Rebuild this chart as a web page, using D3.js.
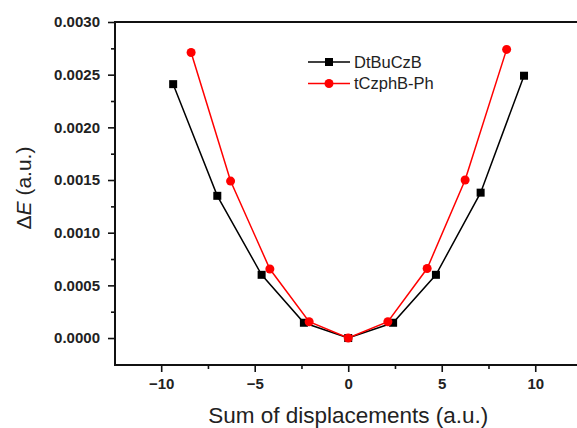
<!DOCTYPE html>
<html>
<head>
<meta charset="utf-8">
<script src="https://cdn.jsdelivr.net/npm/d3@7"></script>
<style>
  body { margin: 0; background: #fff; }
  text { font-family: "Liberation Sans", Arial, sans-serif; }
</style>
</head>
<body>
<div id="chart"></div>
<script>
// displacement vs energy difference
var dtbuX = [-9.36, -7.0, -4.63, -2.37, 0, 2.4, 4.69, 7.08, 9.4];
var dtbuY = [0.00241, 0.00135, 0.0006, 0.000145, 0, 0.000145, 0.0006, 0.00138, 0.00249];
var tczX = [-8.4, -6.29, -4.19, -2.09, 0, 2.12, 4.22, 6.25, 8.47];
var tczY = [0.00271, 0.00149, 0.000655, 0.000155, 0, 0.000155, 0.00066, 0.0015, 0.00274];
var seriesNames = ["DtBuCzB", "tCzphB-Ph"];
var xTicks = [-10, -5, 0, 5, 10];
var yTicks = [0, 0.0005, 0.001, 0.0015, 0.002, 0.0025, 0.003];

var W = 577, H = 428;
var margin = { top: 22, left: 115, bottom: 63, right: -5 };

var svg = d3.select("#chart").append("svg")
  .attr("width", W).attr("height", H);

var x = d3.scaleLinear()
  .domain([-12.47, 12.5])
  .range([margin.left, W - margin.right]);

var y = d3.scaleLinear()
  .domain([-0.000256, 0.003])
  .range([H - margin.bottom, margin.top]);

var series = [
  { name: seriesNames[0], xs: dtbuX, ys: dtbuY, color: "#000", shape: "square" },
  { name: seriesNames[1], xs: tczX, ys: tczY, color: "#ff0000", shape: "circle" }
];

// frame
svg.append("rect")
  .attr("x", x.range()[0]).attr("y", y.range()[1])
  .attr("width", x.range()[1] - x.range()[0])
  .attr("height", y.range()[0] - y.range()[1])
  .attr("fill", "none").attr("stroke", "#111").attr("stroke-width", 2);

// x axis
var xAxis = svg.append("g")
  .attr("transform", "translate(0," + y.range()[0] + ")")
  .call(d3.axisBottom(x).tickValues(xTicks).tickSize(7).tickPadding(6).tickFormat(d3.format("d")));
xAxis.append("g")
  .call(d3.axisBottom(x).tickValues([-7.5, -2.5, 2.5, 7.5]).tickSize(4).tickFormat(""));

// y axis
var yAxis = svg.append("g")
  .attr("transform", "translate(" + x.range()[0] + ",0)")
  .call(d3.axisLeft(y).tickValues(yTicks).tickSize(7).tickPadding(8).tickFormat(d3.format(".4f")));
yAxis.append("g")
  .call(d3.axisLeft(y).tickValues(d3.range(0, 0.003, 0.0005).map(function(v) { return v + 0.00025; })).tickSize(4).tickFormat(""));

svg.selectAll(".domain").remove();
svg.selectAll(".tick line").attr("stroke", "#111").attr("stroke-width", 1.6);
svg.selectAll(".tick text")
  .attr("fill", "#222")
  .style("font-size", "15px")
  .style("font-weight", "bold");

// lines and markers
var line = d3.line()
  .x(function(d) { return x(d[0]); })
  .y(function(d) { return y(d[1]); });

series.forEach(function(s) {
  var pts = d3.zip(s.xs, s.ys);
  svg.append("path")
    .datum(pts)
    .attr("d", line)
    .attr("fill", "none")
    .attr("stroke", s.color)
    .attr("stroke-width", 1.5);
  if (s.shape === "square") {
    svg.selectAll(null).data(pts).enter().append("rect")
      .attr("x", function(d) { return x(d[0]) - 4; })
      .attr("y", function(d) { return y(d[1]) - 4; })
      .attr("width", 8).attr("height", 8)
      .attr("fill", s.color);
  } else {
    svg.selectAll(null).data(pts).enter().append("circle")
      .attr("cx", function(d) { return x(d[0]); })
      .attr("cy", function(d) { return y(d[1]); })
      .attr("r", 4.5)
      .attr("fill", s.color);
  }
});

// legend
var legend = svg.append("g").attr("transform", "translate(308,62)");
series.forEach(function(s, i) {
  var g = legend.append("g").attr("transform", "translate(0," + i * 21.5 + ")");
  g.append("line").attr("x1", 0).attr("x2", 42).attr("stroke", s.color).attr("stroke-width", 1.5);
  if (s.shape === "square") {
    g.append("rect").attr("x", 17).attr("y", -4).attr("width", 8).attr("height", 8).attr("fill", s.color);
  } else {
    g.append("circle").attr("cx", 21).attr("r", 4.5).attr("fill", s.color);
  }
  g.append("text").attr("x", 46).attr("dy", "0.36em")
    .style("font-size", "16.5px").attr("fill", "#222").text(s.name);
});

// axis titles
svg.append("text")
  .attr("x", x(0)).attr("y", 423)
  .attr("text-anchor", "middle")
  .style("font-size", "22.5px").attr("fill", "#222")
  .text("Sum of displacements (a.u.)");

var yt = svg.append("text")
  .attr("transform", "translate(31," + 188 + ") rotate(-90)")
  .attr("text-anchor", "middle")
  .style("font-size", "21px").attr("fill", "#222");
yt.append("tspan").text("\u0394");
yt.append("tspan").style("font-style", "italic").text("E");
yt.append("tspan").text(" (a.u.)");
</script>
</body>
</html>
